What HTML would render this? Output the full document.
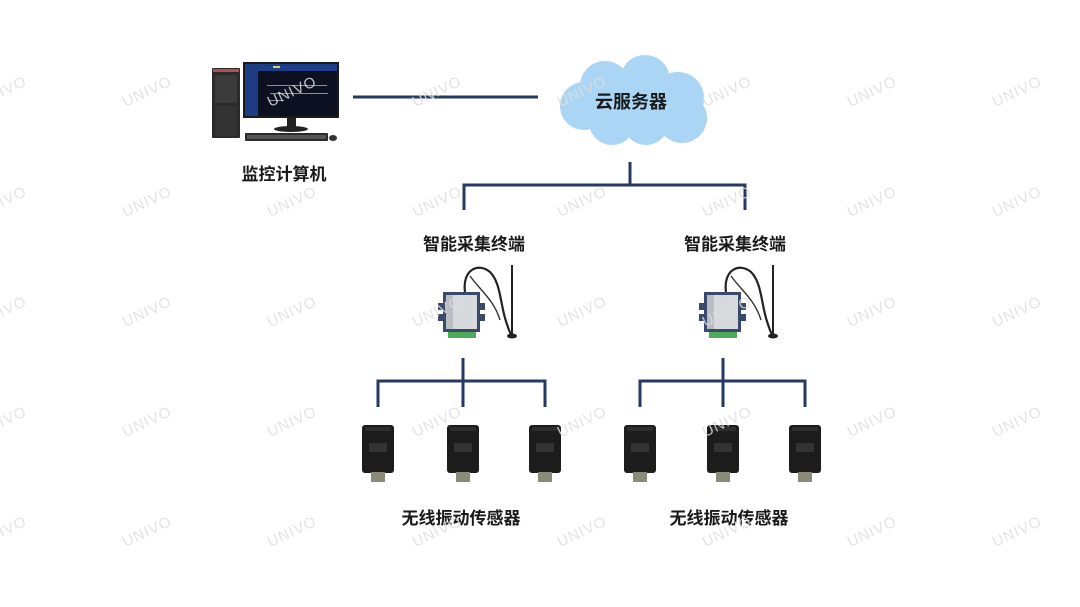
<!DOCTYPE html>
<html><head><meta charset="utf-8"><style>
html,body{margin:0;padding:0;background:#fff;}
svg{display:block;}
.lbl{font-family:"Liberation Sans","Noto Sans CJK SC",sans-serif;font-weight:bold;fill:#1a1a1a;}
.wm{font-family:"Liberation Sans",sans-serif;font-size:15px;fill:#dedede;letter-spacing:1px;}
</style></head><body>
<svg width="1080" height="607" viewBox="0 0 1080 607" xmlns="http://www.w3.org/2000/svg">
<rect width="1080" height="607" fill="#fff"/>

<!-- connectors -->
<g stroke="#243a63" stroke-width="3" fill="none">
  <line x1="353" y1="97" x2="538" y2="97"/>
  <line x1="630" y1="162" x2="630" y2="185"/>
  <polyline points="464,210 464,185 745,185 745,210"/>
  <line x1="463" y1="358" x2="463" y2="407"/>
  <polyline points="378,407 378,381 545,381 545,407"/>
  <line x1="723" y1="358" x2="723" y2="407"/>
  <polyline points="640,407 640,381 805,381 805,407"/>
</g>

<!-- computer -->
<g>
  <rect x="212" y="68" width="28" height="70" rx="1" fill="#2a2a2a"/>
  <rect x="213" y="69" width="26" height="3" fill="#b05050"/>
  <rect x="215" y="75" width="22" height="28" fill="#3a3a3a"/>
  <rect x="215" y="106" width="22" height="30" fill="#333"/>
  <rect x="243" y="62" width="96" height="56" fill="#1b1b1b"/>
  <rect x="245" y="64" width="92" height="52" fill="#0c1020"/>
  <rect x="245" y="64" width="92" height="7" fill="#1d3f8a"/>
  <rect x="245" y="64" width="13" height="52" fill="#1e3c84"/>
  <rect x="273" y="66" width="7" height="2" fill="#d8d070"/>
  <g fill="#8a90a0">
    <rect x="267" y="85" width="60" height="1"/>
    <rect x="270" y="93" width="58" height="1"/>
    <rect x="270" y="100" width="14" height="1"/>
  </g>
  <rect x="287" y="118" width="9" height="10" fill="#222"/>
  <ellipse cx="291" cy="129" rx="17" ry="3" fill="#222"/>
  <rect x="245" y="133" width="83" height="8" rx="1" fill="#2b2b2b"/>
  <rect x="247" y="135" width="79" height="4" fill="#555"/>
  <ellipse cx="333" cy="138" rx="4" ry="3" fill="#333"/>
</g>

<!-- cloud -->
<g fill="#aad5f4">
  <circle cx="605" cy="86" r="25"/>
  <circle cx="645" cy="80" r="25"/>
  <circle cx="678" cy="98" r="26"/>
  <circle cx="584" cy="106" r="24"/>
  <circle cx="612" cy="122" r="23"/>
  <circle cx="646" cy="122" r="23"/>
  <circle cx="682" cy="118" r="25"/>
  <rect x="590" y="88" width="95" height="42"/>
</g>

<!-- terminals -->
<g id="term">
  <path d="M465,292 C462,270 478,262 490,272 C500,282 500,300 505,318 C508,328 510,334 512,336" stroke="#222" stroke-width="2.2" fill="none"/>
  <path d="M470,276 C480,290 494,300 500,320" stroke="#333" stroke-width="1.4" fill="none"/>
  <line x1="512" y1="265" x2="512" y2="334" stroke="#222" stroke-width="2"/>
  <ellipse cx="512" cy="336" rx="5" ry="2.5" fill="#222"/>
  <rect x="438" y="303" width="6" height="7" fill="#3a4a6a"/>
  <rect x="438" y="314" width="6" height="7" fill="#3a4a6a"/>
  <rect x="479" y="303" width="6" height="7" fill="#3a4a6a"/>
  <rect x="479" y="314" width="6" height="7" fill="#3a4a6a"/>
  <rect x="443" y="292" width="37" height="40" fill="#3a4a6a"/>
  <rect x="446" y="295" width="31" height="34" fill="#d6dadd"/>
  <rect x="446" y="295" width="7" height="34" fill="#b8bec4"/>
  <rect x="448" y="332" width="28" height="6" fill="#4caa5a"/>
</g>
<use href="#term" transform="translate(261,0)"/>

<!-- sensors -->
<g id="sens">
  <rect x="362" y="425" width="32" height="48" rx="3" fill="#1c1c1c"/>
  <rect x="365" y="427" width="26" height="4" fill="#2e2e2e"/>
  <rect x="369" y="443" width="18" height="9" fill="#333"/>
  <rect x="371" y="472" width="14" height="10" fill="#8a8a78"/>
</g>
<use href="#sens" transform="translate(85,0)"/>
<use href="#sens" transform="translate(167,0)"/>
<use href="#sens" transform="translate(262,0)"/>
<use href="#sens" transform="translate(345,0)"/>
<use href="#sens" transform="translate(427,0)"/>

<!-- labels -->
<text class="lbl" x="284" y="180" font-size="17" text-anchor="middle">监控计算机</text>
<text class="lbl" x="631" y="108" font-size="18" text-anchor="middle">云服务器</text>
<text class="lbl" x="474" y="250" font-size="17" text-anchor="middle">智能采集终端</text>
<text class="lbl" x="735" y="250" font-size="17" text-anchor="middle">智能采集终端</text>
<text class="lbl" x="461" y="524" font-size="17" text-anchor="middle">无线振动传感器</text>
<text class="lbl" x="729" y="524" font-size="17" text-anchor="middle">无线振动传感器</text>

<!-- watermarks -->
<g class="wm" text-anchor="middle" opacity="0.85">
  <g id="wrow">
    <text transform="translate(4,-14) rotate(-25)">UNIVO</text>
    <text transform="translate(149,-14) rotate(-25)">UNIVO</text>
    <text transform="translate(294,-14) rotate(-25)">UNIVO</text>
    <text transform="translate(439,-14) rotate(-25)">UNIVO</text>
    <text transform="translate(584,-14) rotate(-25)">UNIVO</text>
    <text transform="translate(729,-14) rotate(-25)">UNIVO</text>
    <text transform="translate(874,-14) rotate(-25)">UNIVO</text>
    <text transform="translate(1019,-14) rotate(-25)">UNIVO</text>
  </g>
  <use href="#wrow" transform="translate(0,110)"/>
  <use href="#wrow" transform="translate(0,220)"/>
  <use href="#wrow" transform="translate(0,330)"/>
  <use href="#wrow" transform="translate(0,440)"/>
  <use href="#wrow" transform="translate(0,550)"/>
</g>
</svg>
</body></html>
